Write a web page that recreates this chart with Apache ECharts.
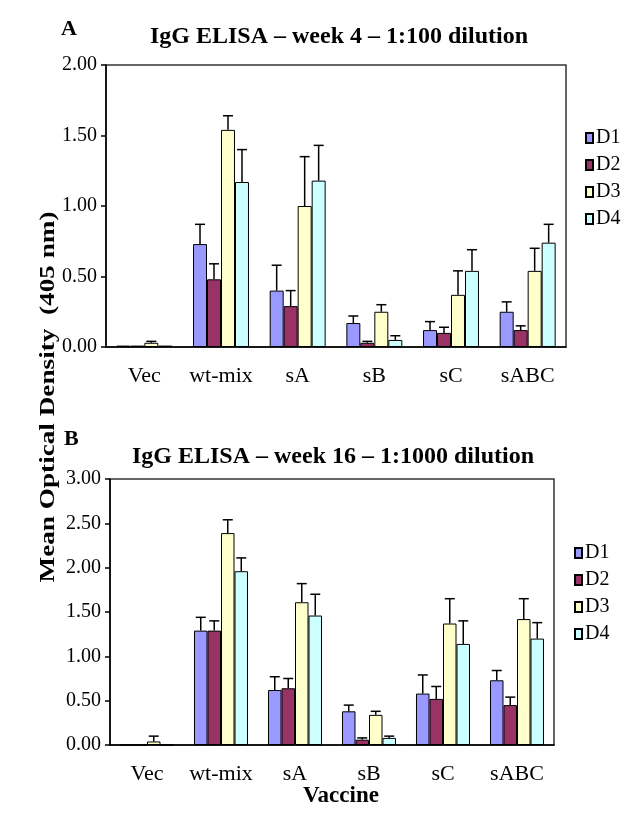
<!DOCTYPE html>
<html>
<head>
<meta charset="utf-8">
<script src="https://cdn.jsdelivr.net/npm/echarts@6/dist/echarts.min.js"></script>
<style>
  html, body { margin: 0; padding: 0; background: #fff; }
  #chart { width: 633px; height: 823px; }
</style>
</head>
<body>
<div id="chart"></div>
<script>
const categories = ['Vec', 'wt-mix', 'sA', 'sB', 'sC', 'sABC'];
const groups = ['D1', 'D2', 'D3', 'D4'];
const colors = ['#9999ff', '#993366', '#ffffcc', '#ccffff'];

// panel A: week 4, 1:100 dilution (means and upper error)
const aD1 = [0.01, 0.73, 0.40, 0.17, 0.12, 0.25];
const aD2 = [0.01, 0.48, 0.29, 0.03, 0.10, 0.12];
const aD3 = [0.03, 1.54, 1.00, 0.25, 0.37, 0.54];
const aD4 = [0.01, 1.17, 1.18, 0.05, 0.54, 0.74];
const aSdD1 = [0, 0.14, 0.18, 0.05, 0.06, 0.07];
const aSdD2 = [0, 0.11, 0.11, 0.01, 0.04, 0.03];
const aSdD3 = [0.01, 0.10, 0.35, 0.05, 0.17, 0.16];
const aSdD4 = [0, 0.23, 0.25, 0.03, 0.15, 0.13];

// panel B: week 16, 1:1000 dilution
const bD1 = [0, 1.29, 0.62, 0.38, 0.58, 0.73];
const bD2 = [0, 1.29, 0.64, 0.06, 0.52, 0.45];
const bD3 = [0.04, 2.39, 1.61, 0.34, 1.37, 1.42];
const bD4 = [0, 1.96, 1.46, 0.08, 1.14, 1.20];
const bSdD1 = [0, 0.15, 0.15, 0.07, 0.21, 0.11];
const bSdD2 = [0, 0.11, 0.11, 0.02, 0.14, 0.09];
const bSdD3 = [0.06, 0.15, 0.21, 0.04, 0.28, 0.23];
const bSdD4 = [0, 0.15, 0.24, 0.02, 0.26, 0.18];

const yTicksA = { min: 0, max: 2, interval: 0.5 };
const yTicksB = { min: 0, max: 3, interval: 0.5 };

const serif = 'Liberation Serif';
const gapPct = 27;

const chart = echarts.init(document.getElementById('chart'));

function errRender(idx) {
  return function (params, api) {
    const cat = api.value(0);
    const hiVal = api.value(1);
    const val = api.value(2);
    if (hiVal <= val) return null;
    const base = api.coord([cat, val]);
    const hi = api.coord([cat, hiVal]);
    const band = api.size([1, 0])[0];
    const total = band * (1 - gapPct / 100);
    const bw = total / groups.length;
    const x = base[0] - total / 2 + bw * (idx + 0.5);
    const st = { stroke: '#000', lineWidth: 1.5 };
    return {
      type: 'group',
      children: [
        { type: 'line', shape: { x1: x, y1: base[1], x2: x, y2: hi[1] }, style: st },
        { type: 'line', shape: { x1: x - 5, y1: hi[1], x2: x + 5, y2: hi[1] }, style: st }
      ]
    };
  };
}

function panelSeries(means, sds, axisIdx) {
  const out = [];
  means.forEach((m, i) => {
    out.push({
      name: groups[i],
      type: 'bar',
      xAxisIndex: axisIdx,
      yAxisIndex: axisIdx,
      data: m,
      barGap: '0%',
      barCategoryGap: gapPct + '%',
      itemStyle: { color: colors[i], borderColor: '#000', borderWidth: 1 }
    });
  });
  means.forEach((m, i) => {
    out.push({
      name: 'err' + groups[i],
      type: 'custom',
      xAxisIndex: axisIdx,
      yAxisIndex: axisIdx,
      renderItem: errRender(i),
      encode: { x: 0, y: [1, 2] },
      data: m.map((v, k) => [k, +(v + sds[i][k]).toFixed(3), v]),
      z: 5
    });
  });
  return out;
}

function xAxisCfg(gridIdx) {
  return {
    type: 'category',
    gridIndex: gridIdx,
    data: categories,
    axisLine: { lineStyle: { color: '#000', width: 1.5 } },
    axisTick: { length: 8, lineStyle: { color: '#000', width: 1.5 } },
    axisLabel: { interval: 0, color: '#000', fontFamily: serif, fontSize: 22, margin: 18 }
  };
}

function yAxisCfg(gridIdx, ticks) {
  return {
    type: 'value',
    gridIndex: gridIdx,
    min: ticks.min,
    max: ticks.max,
    interval: ticks.interval,
    splitLine: { show: false },
    axisLine: { show: true, lineStyle: { color: '#000', width: 1.5 } },
    axisTick: { show: true, length: 5, lineStyle: { color: '#000', width: 1.5 } },
    axisLabel: { color: '#000', fontFamily: serif, fontSize: 20, margin: 9, formatter: v => v.toFixed(2) }
  };
}

const legendBase = {
  orient: 'vertical',
  data: groups,
  itemWidth: 7,
  itemHeight: 10,
  itemGap: 7,
  icon: 'rect',
  textStyle: { color: '#000', fontFamily: serif, fontSize: 20, padding: [0, 0, 0, -2] }
};

const boldText = { fontFamily: serif, fontWeight: 'bold', color: '#000' };

const option = {
  backgroundColor: '#fff',
  animation: false,
  title: [
    { text: 'A', left: 56, top: 13, textStyle: Object.assign({ fontSize: 22 }, boldText) },
    { text: 'IgG ELISA – week 4 – 1:100 dilution', left: 334, textAlign: 'center', top: 20, textStyle: Object.assign({ fontSize: 24 }, boldText) },
    { text: 'B', left: 59, top: 423, textStyle: Object.assign({ fontSize: 22 }, boldText) },
    { text: 'IgG ELISA – week 16 – 1:1000 dilution', left: 328, textAlign: 'center', top: 440, textStyle: Object.assign({ fontSize: 24 }, boldText) }
  ],
  legend: [
    Object.assign({ left: 580, top: 123 }, legendBase),
    Object.assign({ left: 569, top: 538 }, legendBase)
  ],
  graphic: [
    {
      type: 'text',
      x: 49, y: 397,
      rotation: Math.PI / 2,
      scaleX: 1.36,
      style: {
        text: 'Mean Optical Density  (405 nm)',
        fontFamily: serif, fontWeight: 'bold', fontSize: 20, fill: '#000',
        textAlign: 'center', textVerticalAlign: 'middle'
      }
    },
    {
      type: 'text',
      x: 341, y: 796,
      style: {
        text: 'Vaccine',
        fontFamily: serif, fontWeight: 'bold', fontSize: 23, fill: '#000',
        textAlign: 'center', textVerticalAlign: 'middle'
      }
    }
  ],
  grid: [
    { left: 106, top: 65, width: 460, height: 282, show: true, borderColor: '#333', borderWidth: 1.5 },
    { left: 110, top: 479, width: 444, height: 266, show: true, borderColor: '#333', borderWidth: 1.5 }
  ],
  xAxis: [xAxisCfg(0), xAxisCfg(1)],
  yAxis: [yAxisCfg(0, yTicksA), yAxisCfg(1, yTicksB)],
  series: [].concat(
    panelSeries([aD1, aD2, aD3, aD4], [aSdD1, aSdD2, aSdD3, aSdD4], 0),
    panelSeries([bD1, bD2, bD3, bD4], [bSdD1, bSdD2, bSdD3, bSdD4], 1)
  )
};

chart.setOption(option);
</script>
</body>
</html>
